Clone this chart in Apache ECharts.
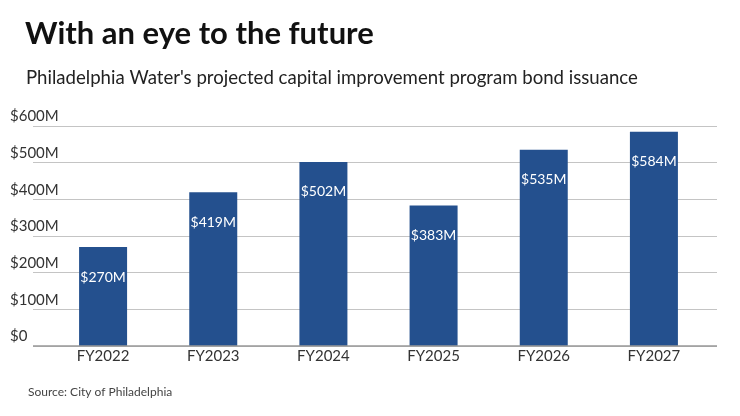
<!DOCTYPE html>
<html><head><meta charset="utf-8">
<script src="https://cdn.jsdelivr.net/npm/echarts@6/dist/echarts.min.js"></script>
<style>html,body{margin:0;padding:0;background:#fff}#c{width:740px;height:416px}</style>
</head><body><div id="c"></div>
<script>
const categories = ['FY2022','FY2023','FY2024','FY2025','FY2026','FY2027'];
const values = [270, 419, 502, 383, 535, 584];
const yTicks = [0, 100, 200, 300, 400, 500, 600];
const fmt = v => v === 0 ? '$0' : '$' + v + 'M';
const chart = echarts.init(document.getElementById('c'));
chart.setOption({
  animation: false,
  textStyle: {fontFamily: 'Lato'},
  title: [
    {text: 'With an eye to the future', left: 20, top: 13, textStyle: {fontFamily: 'Lato', fontWeight: 'bold', fontSize: 31, color: '#111'}},
    {text: "Philadelphia Water's projected capital improvement program bond issuance", left: 21, top: 63, textStyle: {fontFamily: 'Lato', fontWeight: 'normal', fontSize: 18.6, color: '#222'}},
    {text: 'Source: City of Philadelphia', left: 23, top: 381, textStyle: {fontFamily: 'Lato', fontWeight: 'normal', fontSize: 12, color: '#444'}}
  ],
  grid: [
    {left: 33, right: 23, top: 126, bottom: 70},
    {left: 48, right: 31, top: 126, bottom: 70}
  ],
  xAxis: [
    {gridIndex: 0, type: 'category', data: categories, show: false},
    {gridIndex: 1, type: 'category', data: categories,
     axisLine: {show: false}, axisTick: {show: false},
     axisLabel: {fontSize: 15, color: '#333', margin: 3, fontFamily: 'Lato'}}
  ],
  yAxis: [
    {gridIndex: 0, type: 'value', min: yTicks[0], max: yTicks[yTicks.length-1], interval: 100,
     axisLine: {show: false}, axisTick: {show: false},
     splitLine: {lineStyle: {color: '#c4c4c4', width: 1}},
     axisLabel: {formatter: fmt, align: 'left', margin: 23, verticalAlign: 'bottom', padding: [0,0,2,0],
                 fontSize: 15, color: '#333', fontFamily: 'Lato'}},
    {gridIndex: 1, type: 'value', min: yTicks[0], max: yTicks[yTicks.length-1], interval: 100, show: false}
  ],
  series: [
    {type: 'bar', xAxisIndex: 1, yAxisIndex: 1, data: values, barWidth: 48,
     itemStyle: {color: '#24508e'},
     label: {show: true, position: 'insideTop', distance: 23, formatter: p => fmt(p.value),
             color: '#fff', fontSize: 14, fontFamily: 'Lato'}},
    {type: 'line', xAxisIndex: 0, yAxisIndex: 0, data: [], silent: true,
     markLine: {silent: true, symbol: 'none', label: {show: false},
                lineStyle: {color: '#999', width: 1.5, type: 'solid'}, data: [{yAxis: 0}]}}
  ]
});
</script></body></html>
